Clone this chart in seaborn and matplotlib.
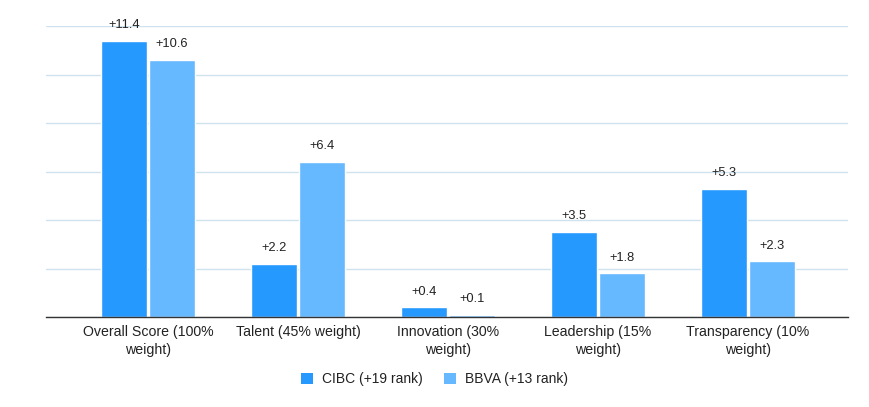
import pandas as pd
import matplotlib.pyplot as plt
import seaborn as sns
from matplotlib.patches import Patch

# Chart data
categories = ['Overall Score (100%\nweight)', 'Talent (45% weight)', 'Innovation (30%\nweight)',
              'Leadership (15%\nweight)', 'Transparency (10%\nweight)']
series = ['CIBC (+19 rank)', 'BBVA (+13 rank)']
cibc = [11.4, 2.2, 0.4, 3.5, 5.3]
bbva = [10.6, 6.4, 0.1, 1.8, 2.3]
colors = ['#2699FF', '#66B8FF']

df = pd.DataFrame({
    'category': categories * 2,
    'series': [series[0]] * 5 + [series[1]] * 5,
    'value': cibc + bbva,
})

sns.set_theme(style='white')
plt.rcParams['font.family'] = ['Liberation Sans', 'DejaVu Sans']

fig = plt.figure(figsize=(8.69, 4.07), dpi=100)
ax = fig.add_axes([0.053, 0.221, 0.923, 0.715])

sns.barplot(data=df, x='category', y='value', hue='series', palette=colors,
            width=0.64, gap=0.04, saturation=1, ax=ax, legend=False)

# Value labels above bars
for container in ax.containers:
    ax.bar_label(container, labels=['+%.1f' % v for v in container.datavalues],
                 padding=7, fontsize=9.3, color='#222222')

ax.set_ylim(0, 12)
ax.set_xlim(-0.68, 4.67)
ax.set_yticks([0, 2, 4, 6, 8, 10, 12])
ax.set_yticklabels([])
ax.tick_params(axis='y', length=0)
ax.tick_params(axis='x', length=0, labelsize=10.2, labelcolor='#222222', pad=6)
for lbl in ax.get_xticklabels():
    lbl.set_linespacing(1.3)
ax.yaxis.grid(True, color='#cfe3ee', linewidth=1)
ax.set_axisbelow(True)
ax.set_xlabel('')
ax.set_ylabel('')
for s in ['top', 'right', 'left']:
    ax.spines[s].set_visible(False)
ax.spines['bottom'].set_color('#333333')
ax.spines['bottom'].set_linewidth(1)

handles = [Patch(facecolor=c, edgecolor='none') for c in colors]
fig.legend(handles, series, loc='center', bbox_to_anchor=(0.5, 0.068), ncol=2,
           frameon=False, fontsize=10, handlelength=0.85, handleheight=0.85,
           handletextpad=0.6, columnspacing=1.6, labelcolor='#222222')

fig.savefig('out.png', dpi=100)
